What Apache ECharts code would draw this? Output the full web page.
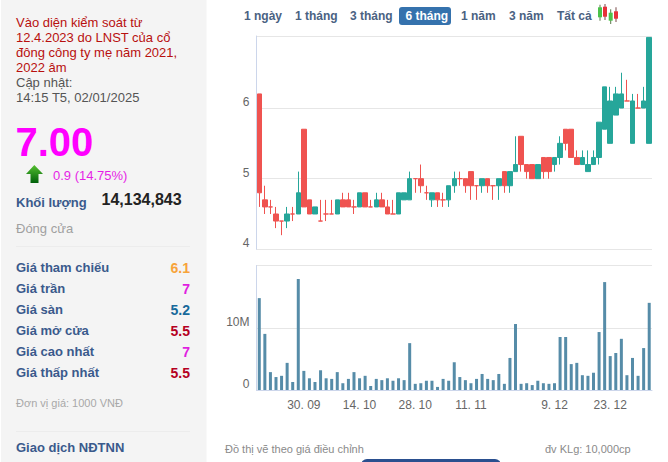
<!DOCTYPE html>
<html><head><meta charset="utf-8">
<style>html,body{margin:0;padding:0;background:#fff}#c{width:668px;height:462px}</style>
<script src="https://cdn.jsdelivr.net/npm/echarts@6/dist/echarts.min.js"></script>
</head><body><div id="c"></div>
<script>
var dates = ['18. 09','19. 09','20. 09','23. 09','24. 09','25. 09','26. 09','27. 09','30. 09','1. 10','2. 10','3. 10','4. 10','7. 10','8. 10','9. 10','10. 10','11. 10','14. 10','15. 10','16. 10','17. 10','18. 10','21. 10','22. 10','23. 10','24. 10','25. 10','28. 10','29. 10','30. 10','31. 10','1. 11','4. 11','5. 11','6. 11','7. 11','8. 11','11. 11','12. 11','13. 11','14. 11','15. 11','18. 11','19. 11','20. 11','21. 11','22. 11','25. 11','3. 12','4. 12','5. 12','6. 12','9. 12','10. 12','11. 12','12. 12','13. 12','16. 12','17. 12','18. 12','19. 12','20. 12','23. 12','24. 12','25. 12','26. 12','27. 12','30. 12','31. 12','2. 1'];
var axisDates = ['30. 09','14. 10','28. 10','11. 11','9. 12','23. 12'];
var opens  = [6.2,4.7,4.6,4.5,4.4,4.4,4.5,4.5,5.7,4.7,4.5,4.4,4.5,4.5,4.5,4.7,4.7,4.6,4.6,4.8,4.6,4.6,4.7,4.6,4.5,4.5,4.7,4.7,5.0,5.0,4.8,4.7,4.8,4.7,4.7,4.9,5.0,5.0,5.1,4.9,4.9,5.0,4.9,4.9,5.1,4.9,5.1,5.6,5.2,5.2,5.0,5.3,5.3,5.2,5.3,5.7,5.7,5.3,5.2,5.1,5.2,5.3,5.7,5.5,5.9,6.0,6.1,5.5,6.0,6.0,5.5];
var closes = [4.8,4.6,4.6,4.4,4.4,4.5,4.5,4.8,4.6,4.5,4.6,4.4,4.5,4.5,4.7,4.6,4.6,4.6,4.8,4.6,4.6,4.7,4.6,4.5,4.5,4.8,4.8,5.0,5.0,4.9,4.8,4.8,4.7,4.7,4.9,5.0,5.0,4.9,4.9,4.9,5.0,4.9,4.9,5.0,4.9,5.1,5.2,5.2,5.1,5.0,5.2,5.1,5.1,5.3,5.5,5.5,5.3,5.2,5.3,5.2,5.3,5.8,6.3,6.1,6.2,6.2,6.1,6.1,6.0,6.1,7.0];
var lows   = [4.6,4.5,4.5,4.3,4.2,4.3,4.4,4.5,4.6,4.5,4.5,4.4,4.4,4.5,4.5,4.6,4.6,4.5,4.6,4.6,4.6,4.6,4.6,4.5,4.5,4.5,4.7,4.7,4.8,4.8,4.7,4.6,4.6,4.6,4.6,4.8,4.9,4.8,4.7,4.7,4.8,4.8,4.7,4.7,4.8,4.8,5.1,5.1,5.0,5.0,5.0,5.0,5.0,5.1,5.2,5.4,5.3,5.2,5.2,5.1,5.2,5.2,5.7,5.5,5.9,6.0,6.1,5.5,6.0,6.0,5.5];
var highs  = [6.2,4.9,4.7,4.6,4.4,4.6,4.6,5.1,5.7,4.7,4.6,4.7,4.7,4.7,4.7,4.8,4.8,4.7,4.8,4.8,4.7,4.8,4.8,4.7,4.7,4.8,4.8,5.1,5.0,5.2,4.9,4.8,4.8,4.8,4.9,5.1,5.1,5.0,5.1,4.9,5.0,5.0,4.9,5.0,5.1,5.1,5.6,5.6,5.2,5.2,5.2,5.3,5.3,5.3,5.6,5.7,5.7,5.4,5.4,5.4,5.4,5.8,6.3,6.3,6.3,6.5,6.4,6.2,6.2,6.3,7.0];
var volumes = [14.9,9.1,2.9,2.1,2.3,4.4,1.3,18.0,3.1,1.9,1.3,3.2,1.9,1.8,2.9,1.1,1.8,2.9,1.9,2.3,0.65,1.8,1.6,1.9,1.5,1.9,1.6,7.6,1.0,1.1,1.5,1.5,0.5,1.8,1.5,4.5,2.1,1.6,1.1,1.8,2.6,1.8,1.6,2.6,1.0,5.2,10.7,1.0,1.1,0.8,1.5,1.1,1.0,1.1,8.6,8.6,4.2,4.4,2.4,2.3,2.8,9.4,17.5,5.5,6.0,8.3,2.4,5.2,2.3,6.8,14.134843];
var priceTicks = [4,5,6];
var volumeTicks = [0,10];
var noticeLines = ['Vào diện kiểm soát từ','12.4.2023 do LNST của cổ','đông công ty mẹ năm 2021,','2022 âm'];
var rowLabels = ['Giá tham chiếu','Giá trần','Giá sàn','Giá mở cửa','Giá cao nhất','Giá thấp nhất'];
var rowValues = ['6.1','7','5.2','5.5','7','5.5'];
var rowColors = ['#f7a33a','#e01fe0','#17699b','#b5001f','#e01fe0','#b5001f'];
var rowY = [267.5,288.5,309.5,330.5,351.5,372.5];
var ranges = [['1 ngày',244],['1 tháng',295],['3 tháng',350],['1 năm',461],['3 năm',509],['Tất cả',557]];

var UP='#26a69a', DOWN='#ef5350', NAVY='#3a5a8c', FF='"Liberation Sans",Arial,sans-serif';
function T(text,x,y,font,fill,align){return {type:'text',silent:true,style:{text:text,x:x,y:y,font:font+' '+FF,fill:fill,textAlign:align||'left',textVerticalAlign:'middle'}};}
function R(x,y,w,h,fill,r){return {type:'rect',silent:true,shape:{x:x,y:y,width:w,height:h,r:r||0},style:{fill:fill}};}
var g=[R(1,0,205.5,462,'#f4f4f4')];
noticeLines.forEach(function(s,i){g.push(T(s,16,[22.7,37.5,52.7,67.7][i],'13px','#b8100f'));});
g.push(T('Cập nhật:',16,82.7,'13px','#555'));
g.push(T('14:15 T5, 02/01/2025',16,97.5,'13px','#555'));
g.push(T('7.00',15.5,141.5,'bold 40px','#ff00ff'));
g.push({type:'polygon',silent:true,shape:{points:[[34.3,165],[43,174],[38.5,174],[38.5,183],[30.5,183],[30.5,174],[26,174]]},style:{fill:new echarts.graphic.LinearGradient(0,0,0,1,[{offset:0,color:'#55c030'},{offset:1,color:'#00600a'}])}});
g.push(T('0.9 (14.75%)',53,175,'13px','#e61fe6'));
g.push(T('Khối lượng',16,202,'bold 13px',NAVY));
g.push(T('14,134,843',101.5,199.5,'bold 16px','#222'));
g.push(T('Đóng cửa',16,228.5,'13px','#a0a0a0'));
g.push(R(16,246,174,1,'#ececec'));
rowLabels.forEach(function(s,i){g.push(T(s,16,rowY[i],'bold 13px',NAVY));g.push(T(rowValues[i],190,rowY[i],'bold 14px',rowColors[i],'right'));});
g.push(T('Đơn vị giá: 1000 VNĐ',16,402.5,'11px','#a8a8a8'));
g.push(R(16,431,174,1,'#ececec'));
g.push(T('Giao dịch NĐTNN',16,447.5,'bold 13px',NAVY));
ranges.forEach(function(r){g.push(T(r[0],r[1],15.5,'bold 12px','#4a6282'));});
g.push(R(399,7,52,18,'#3572ad',3));
g.push(T('6 tháng',405.5,15.5,'bold 12px','#fff'));
[[600,4.7,16,7.3,10,'#4cc24a','#5a7a4a'],[605,4,16,6.7,10,'#e8303a','#7a4a4a'],[610.7,9.3,14.7,12.7,8,'#4cc24a','#5a7a4a'],[616,7.3,14.7,11.3,7.4,'#e8303a','#7a4a4a']].forEach(function(c){
  g.push(R(c[0]-0.5,c[1],1,c[2],c[6]));
  g.push(R(c[0]-2,c[3],4,c[4],c[5]));
});
g.push(T('Đồ thị vẽ theo giá điều chỉnh',225,449,'11px','#8a8a8a'));
g.push(T('đv KLg: 10,000cp',545,449,'11px','#8a8a8a'));
g.push(R(361,459,140,12,'#2a4f8f',7));

var axisSet={}; axisDates.forEach(function(d){axisSet[d]=1;});
var show=function(i,v){return !!axisSet[v];};
var option={
 animation:false,
 graphic:g,
 grid:[{left:256.5,width:395.5,top:36,height:213.3,containLabel:false},{left:256.5,width:395.5,top:265.5,height:124.5,containLabel:false}],
 xAxis:[
  {type:'category',gridIndex:0,data:dates,boundaryGap:true,axisLine:{show:false},axisTick:{show:false},axisLabel:{show:false},splitLine:{show:false}},
  {type:'category',gridIndex:1,data:dates,boundaryGap:true,axisLine:{lineStyle:{color:'#ccd6eb'}},axisTick:{alignWithLabel:true,length:9,interval:show,lineStyle:{color:'#ccd6eb'}},axisLabel:{interval:show,margin:9,color:'#666',fontFamily:FF,fontSize:12,hideOverlap:false},splitLine:{show:false}}
 ],
 yAxis:[
  {type:'value',gridIndex:0,min:4,max:7.02,scale:true,position:'left',
   axisLine:{show:true,lineStyle:{color:'#ccd6eb'}},axisTick:{show:false,customValues:priceTicks.concat([7.02])},
   axisLabel:{customValues:priceTicks,color:'#666',fontFamily:FF,fontSize:12,margin:7,verticalAlign:'bottom',lineHeight:12},
   splitLine:{show:true,lineStyle:{color:'#e6e6e6',width:1}}},
  {type:'value',gridIndex:1,min:0,max:20.19,position:'left',
   axisLine:{show:true,lineStyle:{color:'#ccd6eb'}},axisTick:{show:false,customValues:volumeTicks.concat([20.19])},
   axisLabel:{customValues:volumeTicks,color:'#666',fontFamily:FF,fontSize:12,margin:7,verticalAlign:'bottom',lineHeight:12,formatter:function(v){return v===0?'0':v+'M';}},
   splitLine:{show:true,lineStyle:{color:'#e6e6e6',width:1}}}
 ],
 series:[
  {type:'candlestick',xAxisIndex:0,yAxisIndex:0,barWidth:5,
   data:opens.map(function(o,i){return [o,closes[i],lows[i],highs[i]];}),
   itemStyle:{color:UP,color0:DOWN,borderColor:UP,borderColor0:DOWN,borderColorDoji:DOWN,borderWidth:1}},
  {type:'bar',xAxisIndex:1,yAxisIndex:1,barWidth:3,data:volumes,itemStyle:{color:'#568ca8'}}
 ]
};
var chart=echarts.init(document.getElementById('c'),null,{renderer:'svg',width:668,height:462});
chart.setOption(option);
</script></body></html>
